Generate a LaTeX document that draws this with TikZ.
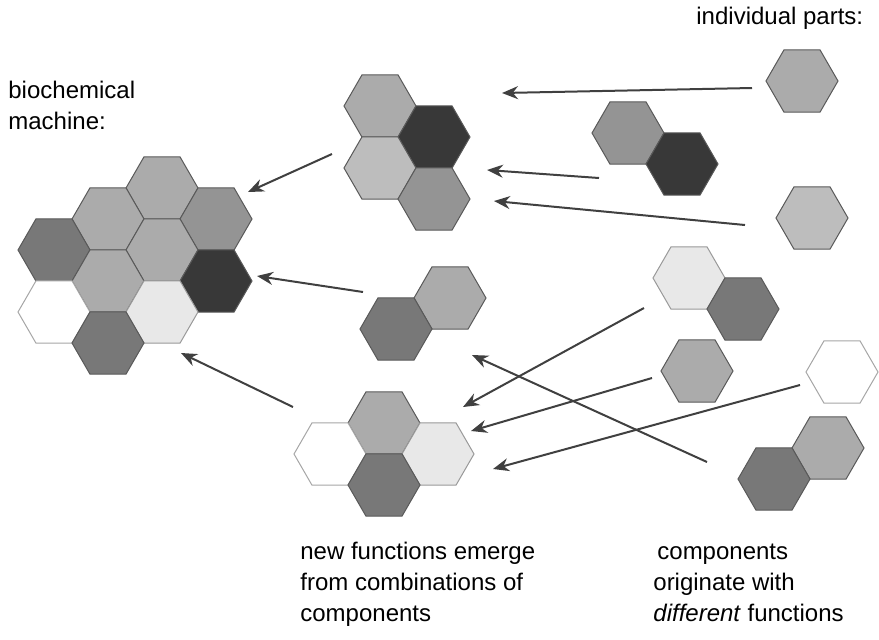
\documentclass[tikz,border=0pt]{standalone}
\usepackage{fontspec}
\setmainfont{Liberation Sans}
\usetikzlibrary{arrows.meta,shapes.geometric}
\definecolor{hexA}{gray}{0.91}
\definecolor{hexB}{gray}{0.74}
\definecolor{hexC}{gray}{0.67}
\definecolor{hexD}{gray}{0.58}
\definecolor{hexE}{gray}{0.47}
\definecolor{hexF}{gray}{0.22}
\newcommand{\lblfont}{\fontsize{12}{15.5}\selectfont}

\begin{document}
\begin{tikzpicture}[x=0.5pt,y=-0.5pt,
    hex/.style={regular polygon,regular polygon sides=6,minimum size=36pt,
        inner sep=0pt,draw=black!65,line width=0.5pt,fill=#1},
    hexw/.style={hex=white,draw=black!35},
    arr/.style={-{Stealth[length=8pt,width=6.5pt]},line width=1pt,draw=black!75},
    lbl/.style={font=\lblfont,align=left,inner sep=0pt,anchor=base west}]
        \useasboundingbox (0,0) rectangle (879,639);

        % biochemical machine
        \node[hex=hexC] (m1) at (162,188) {};
        \node[hex=hexC] (m2) at (108,219) {};
        \node[hex=hexD] (m3) at (216,219) {};
        \node[hex=hexE] (m4) at (54,250) {};
        \node[hex=hexC] (m5) at (162,250) {};
        \node[hex=hexC] (m6) at (108,281) {};
        \node[hex=hexF] (m7) at (216,281) {};
        \node[hexw] (m8) at (54,312) {};
        \node[hex=hexA,draw=black!40] (m9) at (162,312) {};
        \node[hex=hexE] (m10) at (108,343) {};

        % new combinations
        \node[hex=hexC] (c1) at (380,106) {};
        \node[hex=hexF] (c2) at (434,137) {};
        \node[hex=hexB] (c3) at (380,168) {};
        \node[hex=hexD] (c4) at (434,199) {};

        \node[hex=hexC] (d1) at (450,298) {};
        \node[hex=hexE] (d2) at (396,329) {};

        \node[hex=hexC] (e1) at (384,423) {};
        \node[hexw] (e2) at (330,454) {};
        \node[hex=hexA,draw=black!40] (e3) at (438,454) {};
        \node[hex=hexE] (e4) at (384,485) {};

        % individual parts
        \node[hex=hexC] (p1) at (802,81) {};
        \node[hex=hexD] (p2) at (628,133) {};
        \node[hex=hexF] (p3) at (682,164) {};
        \node[hex=hexB] (p4) at (812,218) {};
        \node[hex=hexA,draw=black!40] (p5) at (689,278) {};
        \node[hex=hexE] (p6) at (743,309) {};
        \node[hex=hexC] (p7) at (697,371) {};
        \node[hexw] (p8) at (842,372) {};
        \node[hex=hexC] (p9) at (828,448) {};
        \node[hex=hexE] (p10) at (774,479) {};

        % arrows
        \coordinate (a1s) at (752,88);  \coordinate (a1e) at (502,93);
        \coordinate (a2s) at (599,178); \coordinate (a2e) at (487,170);
        \coordinate (a3s) at (745,225); \coordinate (a3e) at (494,201);
        \coordinate (a4s) at (332,154); \coordinate (a4e) at (248,192);
        \coordinate (a5s) at (363,292); \coordinate (a5e) at (257,276);
        \coordinate (a6s) at (293,407); \coordinate (a6e) at (181,353);
        \coordinate (a7s) at (644,308); \coordinate (a7e) at (463,407);
        \coordinate (a8s) at (652,378); \coordinate (a8e) at (471,431);
        \coordinate (a9s) at (800,385); \coordinate (a9e) at (493,469);
        \coordinate (a10s) at (707,462); \coordinate (a10e) at (472,355);

        \draw[arr] (a1s) -- (a1e);
        \draw[arr] (a2s) -- (a2e);
        \draw[arr] (a3s) -- (a3e);
        \draw[arr] (a4s) -- (a4e);
        \draw[arr] (a5s) -- (a5e);
        \draw[arr] (a6s) -- (a6e);
        \draw[arr] (a7s) -- (a7e);
        \draw[arr] (a8s) -- (a8e);
        \draw[arr] (a9s) -- (a9e);
        \draw[arr] (a10s) -- (a10e);

        % labels
        \node[lbl] (tmach) at (8,129) {biochemical\\machine:};
        \node[lbl] (tparts) at (696,24) {individual parts:};
        \node[lbl] (tnew) at (300,621) {new functions emerge\\from combinations of\\components};
        \node[lbl] (tcomp) at (653,621) {\hspace{2pt}components\\originate with\\\textit{different} functions};
\end{tikzpicture}
\end{document}
